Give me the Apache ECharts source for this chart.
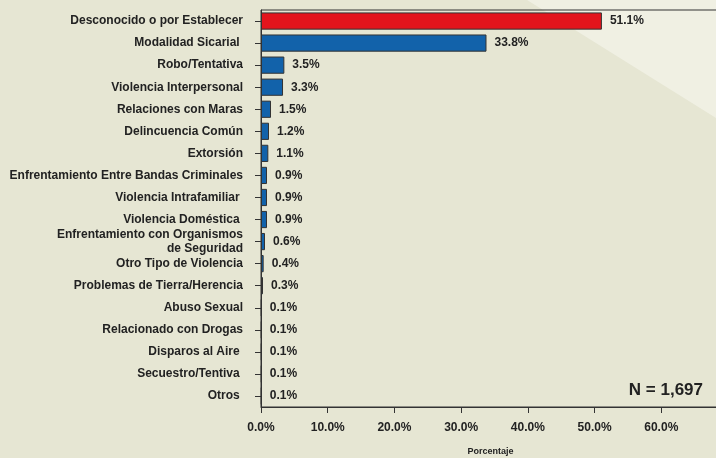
<!DOCTYPE html>
<html>
<head>
<meta charset="utf-8">
<script src="https://cdn.jsdelivr.net/npm/echarts@6/dist/echarts.min.js"></script>
<style>
  html, body { margin: 0; padding: 0; }
  #chart { width: 716px; height: 458px; }
</style>
</head>
<body>
<div id="chart"></div>
<script>
// Motive categories, top to bottom
const categories = [
  'Desconocido o por Establecer',
  'Modalidad Sicarial ',
  'Robo/Tentativa',
  'Violencia Interpersonal',
  'Relaciones con Maras',
  'Delincuencia Común',
  'Extorsión',
  'Enfrentamiento Entre Bandas Criminales',
  'Violencia Intrafamiliar ',
  'Violencia Doméstica ',
  'Enfrentamiento con Organismos\nde Seguridad',
  'Otro Tipo de Violencia',
  'Problemas de Tierra/Herencia',
  'Abuso Sexual',
  'Relacionado con Drogas',
  'Disparos al Aire ',
  'Secuestro/Tentiva ',
  'Otros '
];
// Percentage of cases per category
const percentages = [51.1, 33.8, 3.5, 3.3, 1.5, 1.2, 1.1, 0.9, 0.9, 0.9, 0.6, 0.4, 0.3, 0.1, 0.1, 0.1, 0.1, 0.1];
// Index of the highlighted category
const highlightIndex = 0;
const sampleLabel = 'N = 1,697';
const axisTitle = 'Porcentaje';

const FONT = '"Liberation Sans", Arial, sans-serif';
const TEXT = '#222222';

const chart = echarts.init(document.getElementById('chart'), null, { renderer: 'canvas' });

chart.setOption({
  backgroundColor: '#E6E6D3',
  animation: false,
  graphic: [
    {
      type: 'polygon',
      silent: true,
      z: -100,
      shape: { points: [[527, 0], [716, 0], [716, 118]] },
      style: { fill: '#F0F0E3' }
    },
    {
      type: 'text',
      right: 13,
      top: 382,
      style: {
        text: sampleLabel,
        font: 'bold 17px ' + FONT,
        fill: TEXT
      }
    }
  ],
  grid: {
    left: 261,
    right: -12,
    top: 10,
    bottom: 51,
    outerBoundsMode: 'none',
    containLabel: false,
    show: true,
    borderColor: '#333333',
    borderWidth: 1,
    backgroundColor: 'transparent'
  },
  xAxis: {
    type: 'value',
    min: 0,
    max: 70,
    interval: 10,
    name: axisTitle,
    nameLocation: 'middle',
    nameGap: 40,
    nameTextStyle: { fontFamily: FONT, fontWeight: 'bold', fontSize: 9, color: TEXT, padding: [0, 8, 0, 0] },
    axisLine: { show: true, lineStyle: { color: '#333333', width: 1 } },
    axisTick: { show: true, length: 6, lineStyle: { color: '#333333' } },
    splitLine: { show: false },
    axisLabel: {
      margin: 15,
      showMaxLabel: false,
      fontFamily: FONT,
      fontWeight: 'bold',
      fontSize: 12,
      color: TEXT,
      formatter: v => v.toFixed(1) + '%'
    }
  },
  yAxis: {
    type: 'category',
    inverse: true,
    data: categories,
    axisLine: { show: true, lineStyle: { color: '#333333', width: 1 } },
    axisTick: { show: true, length: 6, alignWithLabel: true, lineStyle: { color: '#333333' } },
    axisLabel: {
      margin: 18,
      interval: 0,
      fontFamily: FONT,
      fontWeight: 'bold',
      fontSize: 12,
      lineHeight: 14,
      color: TEXT,
      align: 'right'
    }
  },
  series: [{
    type: 'bar',
    data: percentages.map((v, i) => ({
      value: v,
      itemStyle: { color: i === highlightIndex ? '#E3141C' : '#1262AA' }
    })),
    barWidth: '78%',
    itemStyle: { borderColor: '#333333', borderWidth: 1 },
    label: {
      show: true,
      position: 'right',
      distance: 8,
      fontFamily: FONT,
      fontWeight: 'bold',
      fontSize: 12,
      color: TEXT,
      formatter: p => p.value.toFixed(1) + '%'
    }
  }]
});
</script>
</body>
</html>
